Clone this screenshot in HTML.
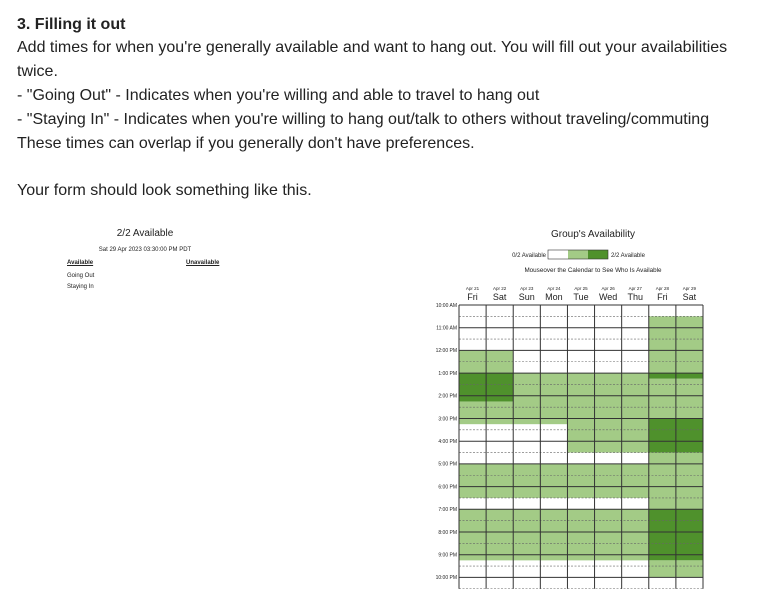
<!DOCTYPE html>
<html><head><meta charset="utf-8"><style>
body{margin:0;width:762px;height:614px;background:#fff;font-family:"Liberation Sans",sans-serif;color:#222;position:relative;overflow:hidden}
.t{position:absolute;left:17px;font-size:16px;white-space:nowrap;line-height:20px}
.s{position:absolute;white-space:nowrap;font-family:"Liberation Sans",sans-serif;color:#222}
</style></head><body>
<div class="t" style="top:15px;font-weight:bold">3. Filling it out</div>
<div class="t" style="top:38px">Add times for when you're generally available and want to hang out. You will fill out your availabilities</div>
<div class="t" style="top:62px">twice.</div>
<div class="t" style="top:86px">- "Going Out" - Indicates when you're willing and able to travel to hang out</div>
<div class="t" style="top:110px">- "Staying In" - Indicates when you're willing to hang out/talk to others without traveling/commuting</div>
<div class="t" style="top:134px">These times can overlap if you generally don't have preferences.</div>
<div class="t" style="top:181px">Your form should look something like this.</div>

<div class="s" style="left:85px;width:120px;text-align:center;top:228px;font-size:10px">2/2 Available</div>
<div class="s" style="left:65px;width:160px;text-align:center;top:247px;font-size:6px">Sat 29 Apr 2023 03:30:00 PM PDT</div>
<div class="s" style="left:67px;top:260px;font-size:6px;font-weight:bold;text-decoration:underline">Available</div>
<div class="s" style="left:186px;top:260px;font-size:6px;font-weight:bold;text-decoration:underline">Unavailable</div>
<div class="s" style="left:67px;top:273px;font-size:6px">Going Out</div>
<div class="s" style="left:67px;top:284px;font-size:6px">Staying In</div>

<svg id="chart" style="position:absolute;left:0;top:0" width="762" height="614"></svg>
<script>
const dates=["Apr 21","Apr 22","Apr 23","Apr 24","Apr 25","Apr 26","Apr 27","Apr 28","Apr 29"];
const days=["Fri","Sat","Sun","Mon","Tue","Wed","Thu","Fri","Sat"];
const hourLabels=["10:00 AM","11:00 AM","12:00 PM","1:00 PM","2:00 PM","3:00 PM","4:00 PM","5:00 PM","6:00 PM","7:00 PM","8:00 PM","9:00 PM","10:00 PM"];
// availability runs per day: [startHour, endHour, count] (hours from midnight)
const runsA=[[12,13,1],[13,14.25,2],[14.25,15.25,1],[17,18.5,1],[19,21.25,1]];
const runsB=[[13,15.25,1],[17,18.5,1],[19,21.25,1]];
const runsC=[[13,16.5,1],[17,18.5,1],[19,21.25,1]];
const runsD=[[10.5,13,1],[13,13.25,2],[13.25,15,1],[15,16.5,2],[16.5,19,1],[19,21.25,2],[21.25,22,1]];
const dayRuns=[runsA,runsA,runsB,runsB,runsC,runsC,runsC,runsD,runsD];
const maxCount=2;

const svg=document.getElementById('chart');const NS="http://www.w3.org/2000/svg";
const x0=459,x1=703,y0=305,hourH=22.7,startH=10,endH=22.5;
const colW=(x1-x0)/dates.length;
const xs=i=>x0+i*colW;const ys=h=>y0+(h-startH)*hourH;
function mk(tag,attrs){const e=document.createElementNS(NS,tag);for(const k in attrs)e.setAttribute(k,attrs[k]);svg.appendChild(e);return e;}
function txt(s,x,y,size,anchor){const e=mk('text',{x:x,y:y,'font-size':size,'text-anchor':anchor||'start','font-family':'Liberation Sans, sans-serif',fill:'#222'});e.textContent=s;return e;}
const colors=["#ffffff","#a3cb86","#4f912c"];
let t;
t=txt("Group's Availability",593,237,10,'middle');

t=txt("0/2 Available",546,257,6,'end');

for(let i=0;i<=maxCount;i++){const r=mk('rect',{x:548+i*20,y:250,width:20,height:9,fill:colors[i],stroke:'none'});
}
t=mk('rect',{x:548,y:250,width:60,height:9,fill:'none',stroke:'#333','stroke-width':0.6});

t=txt("2/2 Available",611,257,6);

t=txt("Mouseover the Calendar to See Who Is Available",593,272,6.3,'middle');

dates.forEach((d,i)=>{const cx=xs(i)+colW/2;
 let a=txt(d,cx,290,4.5,'middle');
 let b=txt(days[i],cx,300,9,'middle');});
hourLabels.forEach((l,i)=>{let a=txt(l,457,ys(startH+i)+1.8,5,'end');});
dayRuns.forEach((runs,i)=>{runs.forEach(r=>{const c=mk('rect',{x:xs(i),y:ys(r[0]),width:colW,height:ys(r[1])-ys(r[0]),fill:colors[r[2]]});
 });});
for(let h=startH;h<=endH;h+=0.5){const full=Number.isInteger(h);
 const l=mk('line',{x1:x0,x2:x1,y1:ys(h),y2:ys(h),stroke:full?'#333':'#666','stroke-width':full?1:0.6,'stroke-dasharray':full?'':'2,1.5'});
 }
for(let i=0;i<=dates.length;i++){const l=mk('line',{x1:xs(i),x2:xs(i),y1:y0,y2:ys(endH),stroke:'#333','stroke-width':1});
 }
</script>
</body></html>
